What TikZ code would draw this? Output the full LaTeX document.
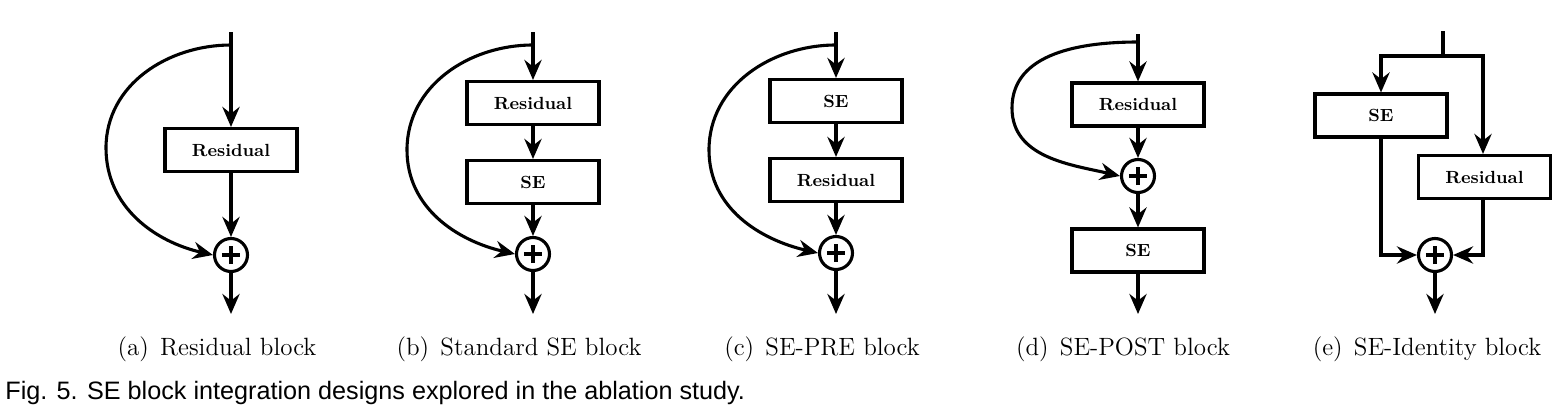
\documentclass[tikz,border=0pt]{standalone}
\usepackage{fontspec}
\newfontfamily\capsans{Liberation Sans}
\usetikzlibrary{arrows.meta}
\begin{document}
\begin{tikzpicture}[x=0.5pt,y=-0.5pt,
  lw/.style={line width=1.55pt},
  blk/.style={draw, lw, minimum width=66pt, minimum height=21.5pt, inner sep=0pt,
    font=\fontsize{8.8}{10}\selectfont\bfseries},
  sumnode/.style={circle, draw, lw, minimum size=16.5pt, inner sep=0pt,
    path picture={
      \draw[line width=1.6pt] ([xshift=-4.6pt]path picture bounding box.center) -- ([xshift=4.6pt]path picture bounding box.center);
      \draw[line width=1.6pt] ([yshift=-4.6pt]path picture bounding box.center) -- ([yshift=4.6pt]path picture bounding box.center);}},
  conn/.style={lw, -{Stealth[length=10pt,width=8.6pt,inset=3.3pt]}},
  plain/.style={lw},
  subcap/.style={font=\fontsize{12.5}{14}\selectfont, anchor=base},
]
\useasboundingbox (0,0) rectangle (1564,418);

% (a)
\coordinate (aT) at (231,32);
\coordinate (aS) at (231,45);
\coordinate (aL) at (106,148);
\node[blk] (aR) at (231,150) {Residual};
\node[sumnode] (aP) at (231,255) {};
\coordinate (aO) at (231,314);
\draw[conn] (aT) -- (aR.north);
\draw[conn] (aR.south) -- (aP.north);
\draw[conn] (aP.south) -- (aO);
\draw[conn] (aS) to[out=180,in=90] (aL) to[out=-90,in=167] (aP.west);

% (b)
\coordinate (bT) at (533,32);
\coordinate (bS) at (533,45);
\coordinate (bL) at (407,150);
\node[blk] (bR) at (533,103) {Residual};
\node[blk] (bE) at (533,182) {SE};
\node[sumnode] (bP) at (533,254) {};
\coordinate (bO) at (533,314);
\draw[conn] (bT) -- (bR.north);
\draw[conn] (bR.south) -- (bE.north);
\draw[conn] (bE.south) -- (bP.north);
\draw[conn] (bP.south) -- (bO);
\draw[conn] (bS) to[out=180,in=90] (bL) to[out=-90,in=167] (bP.west);

% (c)
\coordinate (cT) at (836,32);
\coordinate (cS) at (836,45);
\coordinate (cL) at (709,150);
\node[blk] (cE) at (836,101) {SE};
\node[blk] (cR) at (836,180) {Residual};
\node[sumnode] (cP) at (836,253) {};
\coordinate (cO) at (836,314);
\draw[conn] (cT) -- (cE.north);
\draw[conn] (cE.south) -- (cR.north);
\draw[conn] (cR.south) -- (cP.north);
\draw[conn] (cP.south) -- (cO);
\draw[conn] (cS) to[out=180,in=90] (cL) to[out=-90,in=167] (cP.west);

% (d)
\coordinate (dT) at (1138,34);
\coordinate (dS) at (1138,42);
\coordinate (dL) at (1012,108);
\node[blk] (dR) at (1138,104.5) {Residual};
\node[sumnode] (dP) at (1138,176) {};
\node[blk] (dE) at (1138,250.5) {SE};
\coordinate (dO) at (1138,314);
\draw[conn] (dT) -- (dR.north);
\draw[conn] (dR.south) -- (dP.north);
\draw[conn] (dP.south) -- (dE.north);
\draw[conn] (dE.south) -- (dO);
\draw[conn] (dS) to[out=180,in=90] (dL) to[out=-90,in=167] (dP.west);

% (e)
\coordinate (eT) at (1443,31);
\coordinate (eJ) at (1443,56);
\coordinate (eJL) at (1381,56);
\coordinate (eJR) at (1483,56);
\node[blk] (eE) at (1381,115.5) {SE};
\node[blk] (eR) at (1484.5,177) {Residual};
\node[sumnode] (eP) at (1435,255) {};
\coordinate (eBL) at (1381,255);
\coordinate (eBR) at (1483,255);
\coordinate (eO) at (1435,314);
\draw[plain] (eT) -- (eJ);
\draw[conn] (eJ) -- (eJL) -- (eE.north);
\draw[conn] (eJ) -- (eJR) -- (eJR |- eR.north);
\draw[conn] (eE.south) -- (eBL) -- (eP.west);
\draw[conn] (eR.south -| eBR) -- (eBR) -- (eP.east);
\draw[conn] (eP.south) -- (eO);

% sub-captions
\node[subcap] (capa) at (217,355) {(a)\hspace{0.45em}Residual block};
\node[subcap] (capb) at (519,355) {(b)\hspace{0.45em}Standard SE block};
\node[subcap] (capc) at (822,355) {(c)\hspace{0.45em}SE-PRE block};
\node[subcap] (capd) at (1123,355) {(d)\hspace{0.45em}SE-POST block};
\node[subcap] (cape) at (1427,355) {(e)\hspace{0.45em}SE-Identity block};

% figure caption
\node[anchor=base west, inner sep=0pt, font=\capsans\fontsize{12.6}{14}\selectfont] (fig) at (5,399) {Fig. 5. SE block integration designs explored in the ablation study.};
\end{tikzpicture}
\end{document}
